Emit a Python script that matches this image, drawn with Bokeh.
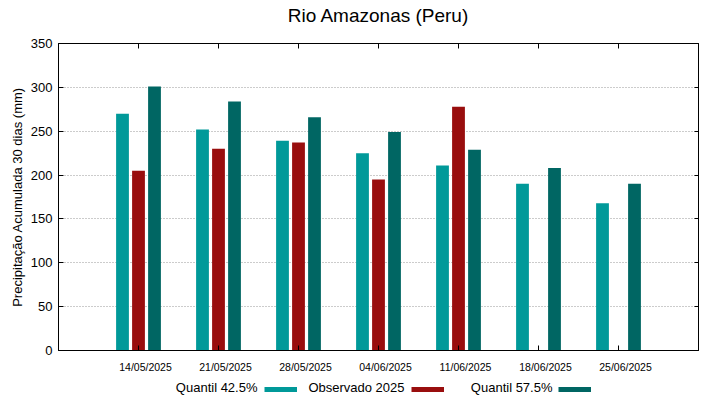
import numpy as np
from bokeh.plotting import figure
from bokeh.layouts import column
from bokeh.models import Range1d, LinearAxis, FixedTicker, Legend, LegendItem, Label, ColumnDataSource
from bokeh.transform import dodge
from bokeh.embed import file_html
from bokeh.resources import INLINE

# ---- data ----
title_text = "Rio Amazonas (Peru)"
dates = ["14/05/2025", "21/05/2025", "28/05/2025", "04/06/2025",
         "11/06/2025", "18/06/2025", "25/06/2025"]
quantil_425 = [270, 252, 239, 225, 211, 190, 168]
observado_2025 = [205, 230, 237, 195, 278, np.nan, np.nan]
quantil_575 = [301, 284, 266, 249, 229, 208, 190]
y_ticks = [0, 50, 100, 150, 200, 250, 300, 350]
legend_labels = ["Quantil 42.5%", "Observado 2025", "Quantil 57.5%"]

FONT = "Liberation Sans"
C_Q425 = "#009999"
C_OBS = "#990e0e"
C_Q575 = "#006663"
colors = [C_Q425, C_OBS, C_Q575]

xpos = list(range(len(dates)))
src = ColumnDataSource(dict(x=xpos, q425=quantil_425, obs=observado_2025, q575=quantil_575))


def strip(height):
    f = figure(width=719, height=height, x_range=Range1d(0, 1), y_range=Range1d(0, 1),
               x_axis_type=None, y_axis_type=None, output_backend="svg", toolbar_location=None,
               min_border_left=0, min_border_right=0, min_border_top=0, min_border_bottom=0)
    f.outline_line_color = None
    return f


# ---- title strip ----
p0 = strip(30)
p0.add_layout(Label(x=320, y=15.5, x_units="screen", y_units="screen", text=title_text,
                    text_align="center", text_baseline="middle", text_font=FONT,
                    text_font_size="19px", text_color="black"))

# ---- main chart ----
p = figure(width=719, height=345, x_range=Range1d(-1, 7), y_range=Range1d(0, 350),
           output_backend="svg", toolbar_location=None,
           min_border_left=58, min_border_right=21, min_border_top=13, min_border_bottom=25)

bw = 0.16
p.vbar(x=dodge("x", -0.2, range=p.x_range), top="q425", width=bw, source=src,
       fill_color=C_Q425, line_color=None)
p.vbar(x=dodge("x", 0.0, range=p.x_range), top="obs", width=bw, source=src,
       fill_color=C_OBS, line_color=None)
p.vbar(x=dodge("x", 0.2, range=p.x_range), top="q575", width=bw, source=src,
       fill_color=C_Q575, line_color=None)

# grid / frame
p.xgrid.visible = False
p.ygrid.ticker = FixedTicker(ticks=y_ticks)
p.ygrid.grid_line_color = "#999999"
p.ygrid.grid_line_dash = "1 2"
p.outline_line_color = "black"
p.outline_line_alpha = 1


def ticks_only(ax, tick_len):
    ax.major_tick_in = tick_len
    ax.major_tick_out = 0
    ax.minor_tick_line_color = None
    ax.major_label_text_color = None
    ax.major_label_text_font_size = "1px"
    ax.major_label_standoff = 0
    ax.axis_line_color = "black"
    ax.major_tick_line_color = "black"


# bottom axis: tick marks only
xa = p.xaxis[0]
xa.ticker = FixedTicker(ticks=xpos)
ticks_only(xa, 5)

# bottom label axis (labels sit slightly right of the ticks)
p.extra_x_ranges = {"lab": Range1d(-1 - 0.0875, 7 - 0.0875)}
lab = LinearAxis(x_range_name="lab", ticker=FixedTicker(ticks=xpos),
                 major_label_overrides={i: d for i, d in zip(xpos, dates)},
                 axis_line_color=None, major_tick_line_color=None, minor_tick_line_color=None,
                 major_tick_in=0, major_tick_out=0,
                 major_label_standoff=10, major_label_text_font=FONT,
                 major_label_text_font_size="10.5px", major_label_text_color="black")
p.add_layout(lab, "below")

# left axis
ya = p.yaxis[0]
ya.ticker = FixedTicker(ticks=y_ticks)
ya.major_tick_in = 5
ya.major_tick_out = 0
ya.minor_tick_line_color = None
ya.major_label_text_font = FONT
ya.major_label_text_font_size = "13px"
ya.major_label_text_color = "black"
ya.major_label_standoff = 6
ya.axis_label = "Precipitação Acumulada 30 dias (mm)"
ya.axis_label_text_font = FONT
ya.axis_label_text_font_size = "13px"
ya.axis_label_text_font_style = "normal"
ya.axis_label_text_color = "black"
ya.axis_label_standoff = 3
ya.axis_line_color = "black"

# right / top axes: inward ticks only
ra = LinearAxis(ticker=FixedTicker(ticks=y_ticks))
ticks_only(ra, 4)
p.add_layout(ra, "right")
ta = LinearAxis(ticker=FixedTicker(ticks=xpos))
ticks_only(ta, 5)
p.add_layout(ta, "above")

# ---- legend strip below the chart: text, then colour swatch ----
p2 = strip(24)
items = []
for lbl, c in zip(legend_labels, colors):
    r = p2.line([np.nan], [np.nan], line_color=c, line_width=5)
    items.append(LegendItem(label=" ", renderers=[r]))
leg = Legend(items=items, orientation="horizontal", location=(206, 7),
             glyph_width=33, glyph_height=6, label_width=0, label_height=6,
             label_standoff=0, spacing=114, padding=0, margin=0,
             border_line_color=None, background_fill_alpha=0,
             label_text_font_size="1px")
p2.add_layout(leg, "center")

for txt, xr in zip(legend_labels, [199, 346, 494]):
    p2.add_layout(Label(x=xr, y=12, x_units="screen", y_units="screen", text=txt,
                        text_align="right", text_baseline="middle", text_font=FONT,
                        text_font_size="13px", text_color="black"))

layout = column(p0, p, p2, spacing=0)
open("out.html", "w").write(file_html(layout, INLINE))
